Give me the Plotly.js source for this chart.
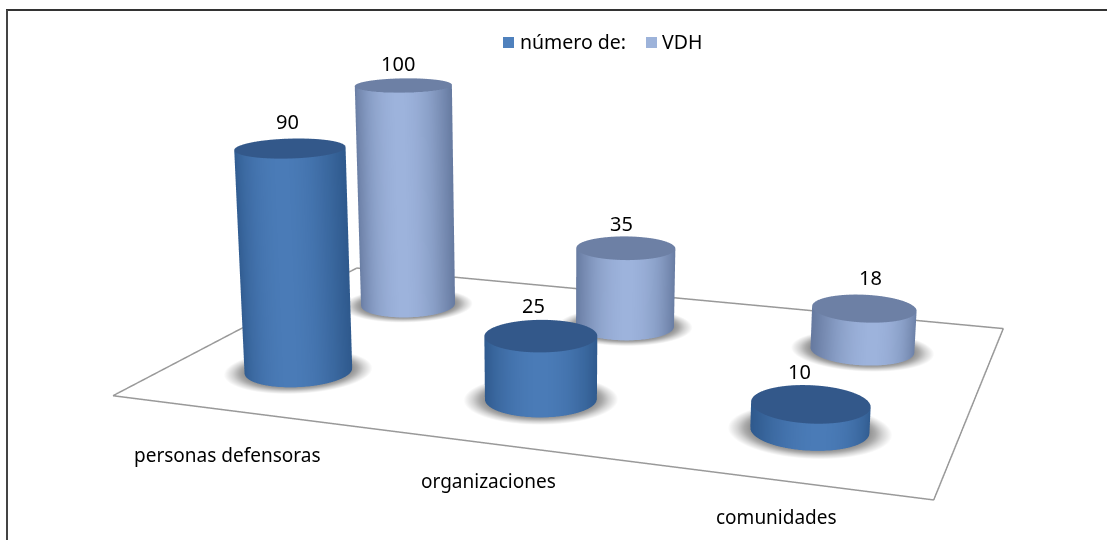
<!DOCTYPE html>
<html><head><meta charset="utf-8">
<script src="https://cdn.plot.ly/plotly-3.0.1.min.js"></script>
<style>html,body{margin:0;padding:0;width:1107px;height:540px;overflow:hidden;background:#fff}
#chart{position:absolute;left:-930px;top:-454px;width:2967px;height:1447px}</style>
</head><body><div id="chart"></div>
<script>
var categories = ['personas defensoras','organizaciones','comunidades'];
var seriesNames = ['número de:','VDH'];
var numeroDe = [90,25,10];
var vdh = [100,35,18];

var figW=2967, figH=1447, figL=930, figT=454;
var px=function(u){return (u+figL)/figW}, py=function(v){return 1-(v+figT)/figH};
var R=0.2055, N=72;
var viewH=[0.3417,-0.9398];
function hex(c){return [parseInt(c.substr(1,2),16),parseInt(c.substr(3,2),16),parseInt(c.substr(5,2),16)]}
function mix(a,b,t){var A=hex(a),B=hex(b);return 'rgb('+[0,1,2].map(function(i){return Math.round(A[i]+(B[i]-A[i])*t)}).join(',')+')'}

function cylinders(values,yc,edge,mid,cap,name){
  var x=[],y=[],z=[],i=[],j=[],k=[],vc=[];
  values.forEach(function(v,c){
    var cx=c+0.5,b=x.length;
    for(var a=0;a<=N;a++){
      var th=a/N*2*Math.PI,co=Math.cos(th),si=Math.sin(th);
      var t=Math.max(0,co*viewH[0]+si*viewH[1]);
      var col=mix(edge,mid,Math.pow(t,2));
      x.push(cx+R*co,cx+R*co);y.push(yc+R*si,yc+R*si);z.push(0,v);vc.push(col,col);
    }
    for(a=0;a<N;a++){var p=b+2*a;i.push(p,p+1);j.push(p+1,p+3);k.push(p+2,p+2);}
    var tc=x.length;x.push(cx);y.push(yc);z.push(v);vc.push(cap);
    for(a=0;a<=N;a++){th=a/N*2*Math.PI;x.push(cx+R*Math.cos(th));y.push(yc+R*Math.sin(th));z.push(v);vc.push(cap);}
    for(a=0;a<N;a++){i.push(tc);j.push(tc+1+a);k.push(tc+2+a);}
  });
  return {type:'mesh3d',x:x,y:y,z:z,i:i,j:j,k:k,vertexcolor:vc,flatshading:false,hoverinfo:'skip',showlegend:false,name:name,
    lighting:{ambient:1,diffuse:0,specular:0,roughness:1,fresnel:0},showscale:false};
}
function shadows(values,yc){
  var x=[],y=[],z=[],i=[],j=[],k=[],vc=[];
  var rings=[[0,'#8e8e8e'],[1.0,'#939393'],[1.1,'#ababab'],[1.22,'#d4d4d4'],[1.38,'#ffffff']];
  values.forEach(function(v,c){
    var cx=c+0.5,b=x.length;
    rings.forEach(function(rg){
      for(var a=0;a<N;a++){var th=a/N*2*Math.PI;x.push(cx+R*rg[0]*Math.cos(th));y.push(yc+R*rg[0]*Math.sin(th));z.push(0);vc.push(rg[1]);}
    });
    for(var r=0;r<rings.length-1;r++)for(var a=0;a<N;a++){
      var p=b+r*N+a,q=b+r*N+(a+1)%N,p2=p+N,q2=q+N;
      i.push(p,q);j.push(q,q2);k.push(p2,p2);
    }
  });
  return {type:'mesh3d',x:x,y:y,z:z,i:i,j:j,k:k,vertexcolor:vc,hoverinfo:'skip',showlegend:false,
    lighting:{ambient:1,diffuse:0,specular:0,roughness:1,fresnel:0},showscale:false};
}
var floor={type:'scatter3d',mode:'lines',x:[0,3,3,0,0],y:[0,0,2,2,0],z:[0,0,0,0,0],line:{color:'#999999',width:3},hoverinfo:'skip',showlegend:false};
var data=[shadows(numeroDe,0.5),shadows(vdh,1.5),floor,
  cylinders(numeroDe,0.5,'#2f5a8e','#4a7bb7','#33588a',seriesNames[0]),
  cylinders(vdh,1.5,'#677ba1','#9db3dc','#6d80a5',seriesNames[1])];

var font={family:'"Noto Sans",sans-serif',size:19,color:'#000'};
var valueFont={family:'"Noto Sans",sans-serif',size:20,color:'#000'};
var annotations=[];
function valueLabels(values,yc,dx,dy){values.forEach(function(v,c){annotations.push({x:c+0.5,y:yc+R,z:v,text:String(v),showarrow:false,font:valueFont,yanchor:'bottom',xshift:dx[c],yshift:dy[c]});});}
valueLabels(numeroDe,0.5,[-29,-27,-23],[2,0,-1]);
valueLabels(vdh,1.5,[-26,-19,-3],[0,-2,2]);
var catShift=[[-4,-44],[-1,-38],[0,-37]];
categories.forEach(function(t,c){annotations.push({x:c+0.5,y:0,z:0,text:t,showarrow:false,font:font,xshift:catShift[c][0],yshift:catShift[c][1]});});

// legend keys and names
var legendFont={family:'"Noto Sans",sans-serif',size:19.5,color:'#000'};
var legendItems=[{name:seriesNames[0],color:'#4f81bd',box:503,text:518},{name:seriesNames[1],color:'#9db3da',box:646,text:660}];
var paperAnn=legendItems.map(function(it){return {xref:'paper',yref:'paper',x:px(it.text),y:py(42),xanchor:'left',yanchor:'middle',text:it.name,showarrow:false,font:legendFont}});
var shapes=legendItems.map(function(it){return {type:'rect',xref:'paper',yref:'paper',x0:px(it.box),x1:px(it.box+11),y0:py(48),y1:py(37),fillcolor:it.color,line:{width:0}}});
shapes.push({type:'line',xref:'paper',yref:'paper',x0:px(6),x1:px(1107),y0:py(10),y1:py(10),line:{color:'#333',width:2}});
shapes.push({type:'line',xref:'paper',yref:'paper',x0:px(7),x1:px(7),y0:py(10),y1:py(540),line:{color:'#444',width:2}});

var hiddenAxis={visible:false,showspikes:false,showgrid:false,zeroline:false,showbackground:false};
var layout={width:figW,height:figH,margin:{l:0,r:0,t:0,b:0,autoexpand:false},paper_bgcolor:'#fff',
  showlegend:false,annotations:paperAnn,shapes:shapes,
  scene:{domain:{x:[0,1],y:[0,1]},aspectmode:'manual',aspectratio:{x:1,y:0.6768,z:0.323},
    xaxis:Object.assign({range:[0,3]},hiddenAxis),yaxis:Object.assign({range:[0,2]},hiddenAxis),zaxis:Object.assign({range:[0,100]},hiddenAxis),
    camera:{eye:{x:0.7099,y:-2.0770,z:0.5240},center:{x:-0.0512,y:0.0167,z:-0.0471},up:{x:0,y:0,z:1}},
    annotations:annotations}};
Plotly.newPlot('chart',data,layout,{displayModeBar:false,responsive:false});
</script></body></html>
